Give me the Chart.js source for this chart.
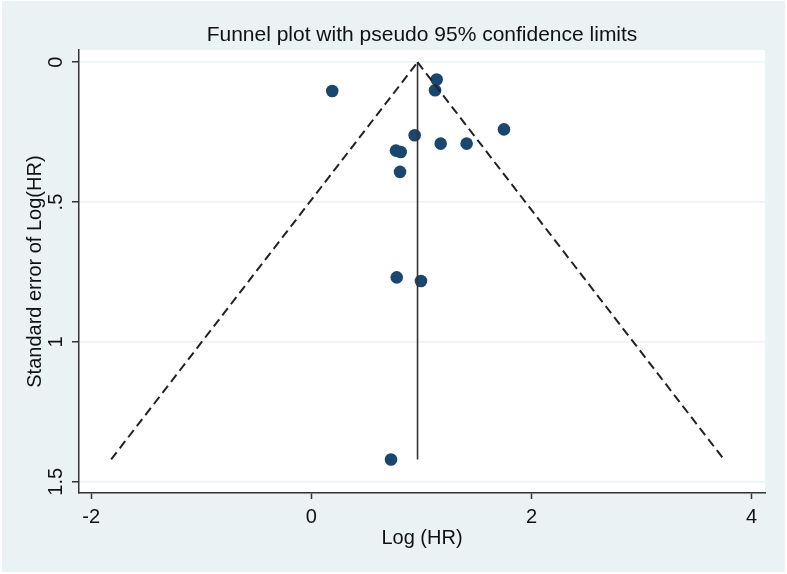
<!DOCTYPE html>
<html>
<head>
<meta charset="utf-8">
<script src="https://cdn.jsdelivr.net/npm/chart.js@4.4.1/dist/chart.umd.min.js"></script>
<style>
  html, body { margin: 0; padding: 0; background: #ffffff; }
  #frame { position: absolute; left: 2px; top: 1px; width: 783px; height: 571px; background: #eaf2f3; }
  canvas { display: block; }
</style>
</head>
<body>
<div id="frame"><canvas id="funnel" width="783" height="571"></canvas></div>
<script>
const logHR = [0.19, 1.139, 1.124, 0.939, 1.75, 1.175, 1.411, 0.769, 0.812, 0.806, 0.776, 0.996, 0.724];
const seLogHR = [0.103, 0.062, 0.1, 0.261, 0.24, 0.291, 0.291, 0.316, 0.321, 0.392, 0.769, 0.782, 1.42];

const limitLeftX = [-1.818, 0.965];
const limitRightX = [0.965, 3.748];
const limitLeftY = [1.42, 0];
const limitRightY = [0, 1.42];
const pooledX = [0.965, 0.965];
const pooledY = [0, 1.42];

const xTicks = [-2, 0, 2, 4];
const yTicks = [0, 0.5, 1, 1.5];
const yTickLabels = ["0", ".5", "1", "1.5"];

const toPoints = (xs, ys) => xs.map((x, i) => ({ x, y: ys[i] }));

const plotBackground = {
  id: "plotBackground",
  beforeDraw(chart) {
    const { ctx, chartArea: a } = chart;
    ctx.save();
    ctx.fillStyle = "#ffffff";
    ctx.fillRect(a.left, a.top, a.right - a.left, a.bottom - a.top);
    ctx.restore();
  },
};

const font = { family: "'Liberation Sans', Arial, sans-serif", size: 20 };
const axisColor = "#333333";

new Chart(document.getElementById("funnel"), {
  type: "scatter",
  data: {
    datasets: [
      {
        label: "limit left",
        data: toPoints(limitLeftX, limitLeftY),
        showLine: true,
        borderColor: "#222222",
        borderWidth: 2,
        borderDash: [9, 5],
        pointRadius: 0,
        order: 1,
      },
      {
        label: "limit right",
        data: toPoints(limitRightX, limitRightY),
        showLine: true,
        borderColor: "#222222",
        borderWidth: 2,
        borderDash: [9, 5],
        pointRadius: 0,
        order: 1,
      },
      {
        label: "pooled",
        data: toPoints(pooledX, pooledY),
        showLine: true,
        borderColor: "#333333",
        borderWidth: 1.6,
        pointRadius: 0,
        order: 1,
      },
      {
        label: "studies",
        data: toPoints(logHR, seLogHR),
        backgroundColor: "#1a476f",
        borderColor: "#1a476f",
        borderWidth: 0,
        pointRadius: 6.3,
        order: 2,
      },
    ],
  },
  options: {
    responsive: false,
    devicePixelRatio: 1,
    animation: false,
    layout: { padding: { left: 0, right: 20, top: 0, bottom: 0 } },
    plugins: {
      legend: { display: false },
      tooltip: { enabled: false },
      title: {
        display: true,
        fullSize: false,
        text: "Funnel plot with pseudo 95% confidence limits",
        color: "#111111",
        font: { ...font, size: 21, weight: "normal" },
        padding: { top: 22, bottom: 2 },
      },
    },
    scales: {
      x: {
        type: "linear",
        min: -2.11,
        max: 4.121,
        afterFit: (s) => { s.height = 79; },
        afterBuildTicks: (s) => { s.ticks = xTicks.map((v) => ({ value: v })); },
        ticks: { color: "#111111", font, padding: 6, callback: (v) => String(v) },
        grid: { drawOnChartArea: false, drawTicks: true, tickLength: 6, tickColor: axisColor, tickWidth: 1.5 },
        border: { display: true, color: axisColor, width: 1.5 },
        title: { display: true, text: "Log (HR)", color: "#111111", font, padding: { top: 0, bottom: 22 } },
      },
      y: {
        type: "linear",
        reverse: true,
        min: -0.043,
        max: 1.54,
        afterFit: (s) => { s.width = 77; },
        afterBuildTicks: (s) => { s.ticks = yTicks.map((v) => ({ value: v })); },
        ticks: {
          color: "#111111",
          font,
          padding: 2,
          minRotation: 90,
          maxRotation: 90,
          crossAlign: "center",
          callback: (v) => yTickLabels[yTicks.indexOf(v)],
        },
        grid: { color: "#eaf2f3", lineWidth: 1.5, drawTicks: true, tickLength: 7, tickColor: axisColor, tickWidth: 1.5 },
        border: { display: true, color: axisColor, width: 1.5 },
        title: { display: true, text: "Standard error of Log(HR)", color: "#111111", font, padding: { top: 21, bottom: 0 } },
      },
    },
  },
  plugins: [plotBackground],
});
</script>
</body>
</html>
